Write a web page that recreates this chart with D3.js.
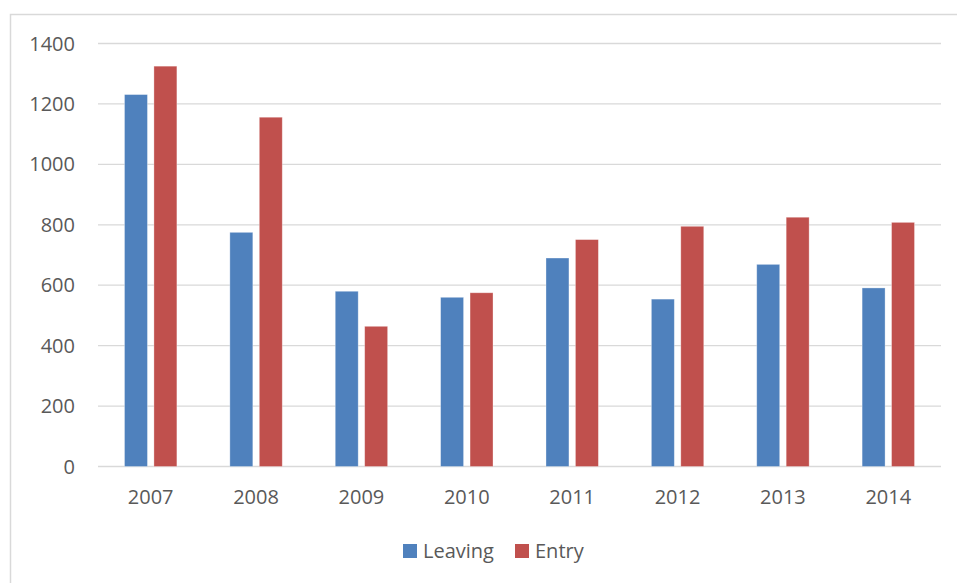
<!DOCTYPE html>
<html>
<head>
<meta charset="utf-8">
<script src="https://cdn.jsdelivr.net/npm/d3@7"></script>
<style>
  body { margin: 0; background: #fff; }
  text { font-family: "Open Sans", sans-serif; fill: #595959; }
</style>
</head>
<body>
<div id="chart"></div>
<script>
  const years = ["2007", "2008", "2009", "2010", "2011", "2012", "2013", "2014"];
  const leaving = [1231, 775, 580, 560, 690, 554, 669, 591];
  const entry = [1325, 1156, 464, 575, 751, 795, 825, 808];
  const yTicks = [0, 200, 400, 600, 800, 1000, 1200, 1400];

  const series = [
    { name: "Leaving", values: leaving, color: "#4F81BD" },
    { name: "Entry", values: entry, color: "#C0504D" }
  ];

  const width = 957, height = 583;
  const margin = { top: 43.5, right: 16, bottom: 116.5, left: 98 };

  const svg = d3.select("#chart").append("svg")
    .attr("width", width)
    .attr("height", height);

  // chart area border (only left and top fall inside the picture)
  svg.append("rect")
    .attr("x", 10.5).attr("y", 14.5)
    .attr("width", 980).attr("height", 640)
    .attr("fill", "none")
    .attr("stroke", "#d9d9d9")
    .attr("stroke-width", 1.5);

  const x = d3.scaleBand()
    .domain(years)
    .range([margin.left, width - margin.right]);

  const x1 = d3.scaleBand()
    .domain(series.map(s => s.name))
    .range([0, x.bandwidth()])
    .paddingInner(0.22)
    .paddingOuter(0.9);

  const y = d3.scaleLinear()
    .domain([0, 1400])
    .range([height - margin.bottom, margin.top]);

  // gridlines
  svg.append("g")
    .selectAll("line")
    .data(yTicks)
    .join("line")
      .attr("x1", margin.left)
      .attr("x2", width - margin.right)
      .attr("y1", d => y(d))
      .attr("y2", d => y(d))
      .attr("stroke", "#d9d9d9")
      .attr("stroke-width", 1.3);

  // y tick labels
  svg.append("g")
    .selectAll("text")
    .data(yTicks)
    .join("text")
      .attr("x", 75)
      .attr("y", d => y(d))
      .attr("dy", "0.35em")
      .attr("text-anchor", "end")
      .style("font-size", "20px")
      .text(d => d);

  // bars
  svg.append("g")
    .selectAll("g")
    .data(series)
    .join("g")
      .attr("fill", d => d.color)
    .selectAll("rect")
    .data(s => s.values.map((v, i) => ({ name: s.name, year: years[i], value: v })))
    .join("rect")
      .attr("x", d => x(d.year) + x1(d.name))
      .attr("y", d => y(d.value))
      .attr("width", x1.bandwidth())
      .attr("height", d => y(0) - y(d.value))
      .attr("stroke", "#ffffff")
      .attr("stroke-opacity", 0.4)
      .attr("stroke-width", 0.8);

  // x labels
  svg.append("g")
    .selectAll("text")
    .data(years)
    .join("text")
      .attr("x", d => x(d) + x.bandwidth() / 2)
      .attr("y", 497)
      .attr("dy", "0.35em")
      .attr("text-anchor", "middle")
      .style("font-size", "20px")
      .text(d => d);

  // legend
  const legend = svg.append("g");
  const legendX = [403, 515];
  series.forEach((s, i) => {
    legend.append("rect")
      .attr("x", legendX[i]).attr("y", 544)
      .attr("width", 14).attr("height", 14)
      .attr("fill", s.color);
    legend.append("text")
      .attr("x", legendX[i] + 20)
      .attr("y", 551)
      .attr("dy", "0.35em")
      .style("font-size", "20px")
      .text(s.name);
  });
</script>
</body>
</html>
